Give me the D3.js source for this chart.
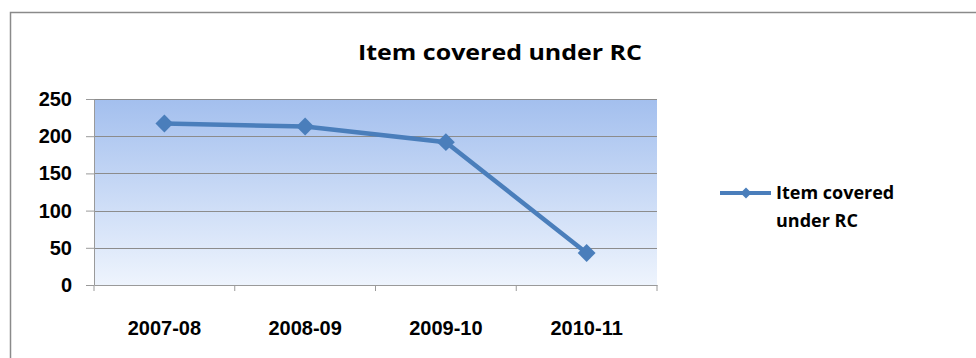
<!DOCTYPE html>
<html>
<head>
<meta charset="utf-8">
<script src="https://cdn.jsdelivr.net/npm/d3@7"></script>
<style>
  body { margin: 0; background: #fff; }
  svg { display: block; font-family: "Open Sans", "Liberation Sans", sans-serif; }
</style>
</head>
<body>
<div id="chart"></div>
<script>
// chart data
const years = ["2007-08", "2008-09", "2009-10", "2010-11"];
const items = [217, 213, 192, 43];
const yTicks = [0, 50, 100, 150, 200, 250];
const seriesName = "Item covered under RC";

const width = 976, height = 358;
const margin = { top: 99, right: 319, bottom: 73, left: 94 };
const w = width - margin.left - margin.right;
const h = height - margin.top - margin.bottom;

const svg = d3.select("#chart").append("svg")
    .attr("width", width).attr("height", height);

// outer chart border (runs off the right and bottom edge)
svg.append("rect")
    .attr("x", 10.5).attr("y", 12.5)
    .attr("width", 1000).attr("height", 400)
    .attr("fill", "none")
    .attr("stroke", "#8a8a8a")
    .attr("stroke-width", 1.5);

// plot background gradient
const grad = svg.append("defs").append("linearGradient")
    .attr("id", "bg").attr("x1", 0).attr("y1", 0).attr("x2", 0).attr("y2", 1);
grad.append("stop").attr("offset", "0%").attr("stop-color", "#a3bfee");
grad.append("stop").attr("offset", "100%").attr("stop-color", "#eef4fd");

const g = svg.append("g")
    .attr("transform", `translate(${margin.left},${margin.top})`);

const x = d3.scaleBand().domain(years).range([0, w]);
const y = d3.scaleLinear().domain([0, 250]).range([h, 0]);

g.append("rect")
    .attr("width", w).attr("height", h)
    .attr("fill", "url(#bg)");

// gridlines
g.append("g")
    .selectAll("line")
    .data(yTicks.filter(d => d > 0))
    .enter().append("line")
    .attr("x1", 0).attr("x2", w)
    .attr("y1", d => Math.round(y(d)) + 0.5)
    .attr("y2", d => Math.round(y(d)) + 0.5)
    .attr("stroke", "#8c8c8c")
    .attr("stroke-width", 1);

// y axis
const yAxis = g.append("g")
    .call(d3.axisLeft(y).tickValues(yTicks).tickSize(8).tickPadding(14).tickSizeOuter(0));
yAxis.select(".domain").attr("stroke", "#9a9a9a");
yAxis.selectAll(".tick line").attr("stroke", "#9a9a9a");
yAxis.selectAll("text")
    .attr("fill", "#000")
    .style("font-size", "20px")
    .style("font-weight", "bold");

// x axis, ticks sit on the band edges
const xAxis = g.append("g")
    .attr("transform", `translate(0,${h})`)
    .call(d3.axisBottom(x).tickSize(0).tickPadding(36));
xAxis.select(".domain").attr("stroke", "#9a9a9a");
xAxis.selectAll("text")
    .attr("fill", "#000")
    .style("font-size", "20px")
    .style("font-weight", "bold");
g.append("g")
    .selectAll("line")
    .data(years.map(d => x(d)).concat([w]))
    .enter().append("line")
    .attr("x1", d => d).attr("x2", d => d)
    .attr("y1", h).attr("y2", h + 6)
    .attr("stroke", "#9a9a9a");

// series line
const line = d3.line()
    .x((d, i) => x(years[i]) + x.bandwidth() / 2)
    .y(d => y(d));

g.append("path")
    .datum(items)
    .attr("fill", "none")
    .attr("stroke", "#4a7ebb")
    .attr("stroke-width", 4.5)
    .attr("d", line);

const marker = d3.symbol().type(d3.symbolSquare).size(160);
g.selectAll(".pt")
    .data(items)
    .enter().append("path")
    .attr("class", "pt")
    .attr("transform", (d, i) => `translate(${x(years[i]) + x.bandwidth() / 2},${y(d)}) rotate(45)`)
    .attr("d", marker)
    .attr("fill", "#4a7ebb");

// title
svg.append("text")
    .attr("x", 500).attr("y", 60)
    .attr("text-anchor", "middle")
    .attr("textLength", 284)
    .attr("lengthAdjust", "spacingAndGlyphs")
    .style("font-size", "22px")
    .style("font-weight", "bold")
    .text(seriesName);

// legend
const lg = svg.append("g").attr("transform", "translate(720,193)");
lg.append("line")
    .attr("x1", 0).attr("x2", 51)
    .attr("stroke", "#4a7ebb").attr("stroke-width", 4);
lg.append("path")
    .attr("transform", "translate(26,0) rotate(45)")
    .attr("d", d3.symbol().type(d3.symbolSquare).size(60))
    .attr("fill", "#4a7ebb");
const lt = lg.append("text")
    .attr("x", 56).attr("y", 6)
    .style("font-size", "18px")
    .style("font-weight", "bold");
lt.append("tspan").attr("x", 56).text("Item covered");
lt.append("tspan").attr("x", 56).attr("dy", 28).text("under RC");
</script>
</body>
</html>
